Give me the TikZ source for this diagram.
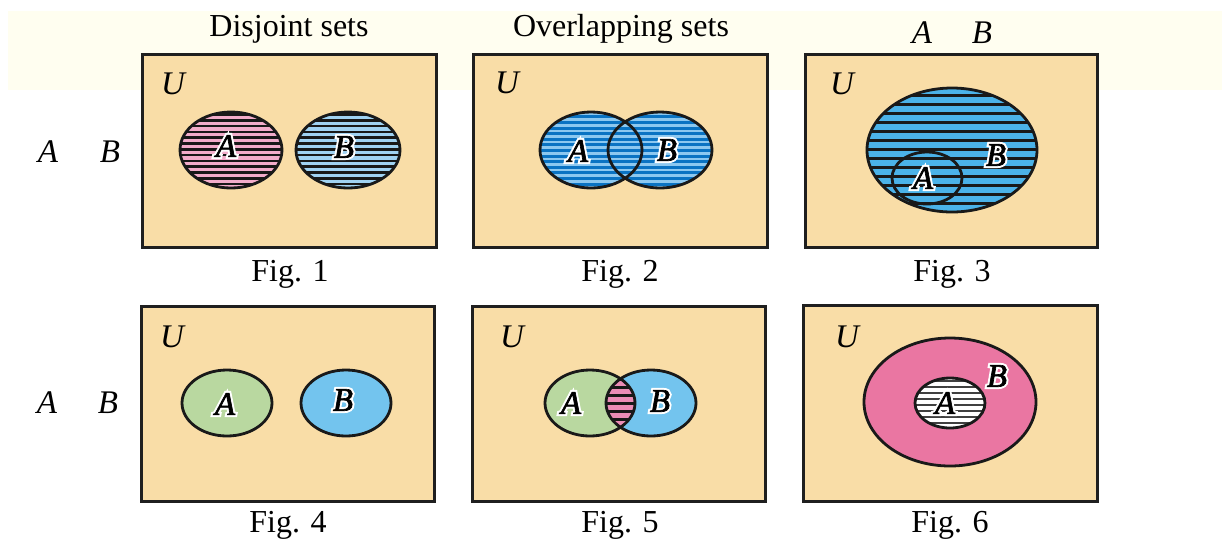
\documentclass[tikz,border=0pt]{standalone}
\usepackage{fontspec}
\setmainfont{Liberation Serif}
\newfontfamily\halofont[FakeBold=14]{Liberation Serif}
\newfontfamily\labfont[FakeBold=2]{Liberation Serif}
\definecolor{cream}{RGB}{255,254,240}
\definecolor{boxfill}{RGB}{249,221,167}
\definecolor{pinkA}{RGB}{242,172,202}
\definecolor{blueB}{RGB}{160,210,242}
\definecolor{darkblue}{RGB}{10,115,195}
\definecolor{lightblue}{RGB}{140,200,240}
\definecolor{blueC}{RGB}{75,178,232}
\definecolor{greenD}{RGB}{185,216,160}
\definecolor{blueD}{RGB}{115,196,238}
\definecolor{pinkE}{RGB}{235,140,182}
\definecolor{pinkF}{RGB}{234,118,162}
\newcommand\hstripes[4]{% x1 x2 list style
  \foreach \yy in {#3} {\draw[#4] (#1,\yy) -- (#2,\yy);}}
\newcommand\haloed[1]{\rlap{\halofont\itshape\color{white}#1}{\labfont\itshape #1}}
\begin{document}
\begin{tikzpicture}[x=0.5pt,y=-0.5pt,font=\fontsize{16}{19}\selectfont]
\tikzset{
  ubox/.style={fill=boxfill,draw=black!88,line width=1.5pt},
  setline/.style={draw=black!90,line width=1.4pt},
  lbl/.style={inner sep=0pt,font=\fontsize{16.5}{19}\selectfont\itshape},
  inlbl/.style={inner sep=0pt,font=\fontsize{16.5}{19}\selectfont},
  figcap/.style={inner sep=0pt,anchor=base},
  blk/.style={black!90,line width=1.3pt},
}
\useasboundingbox (0,0) rectangle (1222,543);
\fill[white] (0,0) rectangle (1222,543);
\fill[cream] (8,11) rectangle (1222,90);

% headers
\node[figcap] (h1) at (289,36) {Disjoint sets};
\node[figcap] (h2) at (621,36) {Overlapping sets};
\node[lbl] (hA) at (922,33) {A};
\node[lbl] (hB) at (982,33) {B};
\node[lbl] (lA1) at (48,152) {A};
\node[lbl] (lB1) at (110,152) {B};
\node[lbl] (lA2) at (47,403) {A};
\node[lbl] (lB2) at (108,403) {B};

% boxes
\path[ubox] (142,54) rectangle (436,247);
\path[ubox] (473,54) rectangle (767,247);
\path[ubox] (805,54) rectangle (1097,247);
\path[ubox] (141,306) rectangle (434,501);
\path[ubox] (472,306) rectangle (765,501);
\path[ubox] (803,305) rectangle (1097,501);

% Fig 1
\fill[pinkA] (231,150) ellipse [x radius=51,y radius=38];
\begin{scope}
\clip (231,150) ellipse [x radius=51,y radius=38];
\hstripes{180}{283}{114.5,120.3,...,190}{blk}
\end{scope}
\fill[blueB] (348,150) ellipse [x radius=52,y radius=38];
\begin{scope}
\clip (348,150) ellipse [x radius=52,y radius=38];
\hstripes{296}{400}{114.5,120.3,...,190}{blk}
\end{scope}
\draw[setline] (231,150) ellipse [x radius=51,y radius=38];
\draw[setline] (348,150) ellipse [x radius=52,y radius=38];

% Fig 2
\fill[darkblue] (591,150) ellipse [x radius=51,y radius=38];
\fill[darkblue] (660,150) ellipse [x radius=52,y radius=38];
\begin{scope}
\clip (591,150) ellipse [x radius=51,y radius=38];
\hstripes{540}{643}{114,119.6,...,190}{lightblue,line width=1.3pt}
\end{scope}
\begin{scope}
\clip (660,150) ellipse [x radius=52,y radius=38];
\hstripes{608}{713}{114,119.6,...,190}{lightblue,line width=1.3pt}
\end{scope}
\draw[setline] (591,150) ellipse [x radius=51,y radius=38];
\draw[setline] (660,150) ellipse [x radius=52,y radius=38];

% Fig 3
\fill[blueC] (952,150) ellipse [x radius=85,y radius=62];
\begin{scope}
\clip (952,150) ellipse [x radius=85,y radius=62];
\hstripes{866}{1038}{95,104,...,215}{black!90,line width=1.5pt}
\end{scope}
\draw[setline] (952,150) ellipse [x radius=85,y radius=62];
\draw[setline] (927,178) ellipse [x radius=35,y radius=26];

% Fig 4
\path[setline,fill=greenD] (227,403) ellipse [x radius=45,y radius=33];
\path[setline,fill=blueD] (346,403) ellipse [x radius=45,y radius=33];

% Fig 5
\fill[greenD] (590,403) ellipse [x radius=45,y radius=33];
\fill[blueD] (651,403) ellipse [x radius=45,y radius=33];
\begin{scope}
\clip (590,403) ellipse [x radius=45,y radius=33];
\clip (651,403) ellipse [x radius=45,y radius=33];
\fill[pinkE] (600,370) rectangle (640,436);
\hstripes{600}{640}{379,387,...,436}{black!90,line width=1.5pt}
\end{scope}
\draw[setline] (590,403) ellipse [x radius=45,y radius=33];
\draw[setline] (651,403) ellipse [x radius=45,y radius=33];

% Fig 6
\path[setline,fill=pinkF] (950,402) ellipse [x radius=86,y radius=64];
\fill[white] (950,403) ellipse [x radius=35,y radius=25];
\begin{scope}
\clip (950,403) ellipse [x radius=35,y radius=25];
\hstripes{914}{986}{381,387,...,430}{black!75,line width=1.2pt}
\end{scope}
\draw[setline] (950,403) ellipse [x radius=35,y radius=25];

% U labels
\node[lbl] (u1) at (173,84) {U};
\node[lbl] (u2) at (507,83) {U};
\node[lbl] (u3) at (842,84) {U};
\node[lbl] (u4) at (172,337) {U};
\node[lbl] (u5) at (512,337) {U};
\node[lbl] (u6) at (847,337) {U};

% set labels
\node[inlbl] (a1) at (226,146) {\haloed{A}};
\node[inlbl] (b1) at (344,147) {\haloed{B}};
\node[inlbl] (a2) at (578,151) {\haloed{A}};
\node[inlbl] (b2) at (667,150) {\haloed{B}};
\node[inlbl] (a3) at (923,178) {\haloed{A}};
\node[inlbl] (b3) at (996,155) {\haloed{B}};
\node[inlbl] (a4) at (225,404) {\haloed{A}};
\node[inlbl] (b4) at (343,400) {\haloed{B}};
\node[inlbl] (a5) at (571,403) {\haloed{A}};
\node[inlbl] (b5) at (660,401) {\haloed{B}};
\node[inlbl] (a6) at (945,403) {\haloed{A}};
\node[inlbl] (b6) at (997,376) {\haloed{B}};

% captions
\node[figcap] (f1) at (290,281) {Fig. 1};
\node[figcap] (f2) at (620,281) {Fig. 2};
\node[figcap] (f3) at (952,281) {Fig. 3};
\node[figcap] (f4) at (288,532) {Fig. 4};
\node[figcap] (f5) at (620,532) {Fig. 5};
\node[figcap] (f6) at (950,532) {Fig. 6};
\end{tikzpicture}
\end{document}
